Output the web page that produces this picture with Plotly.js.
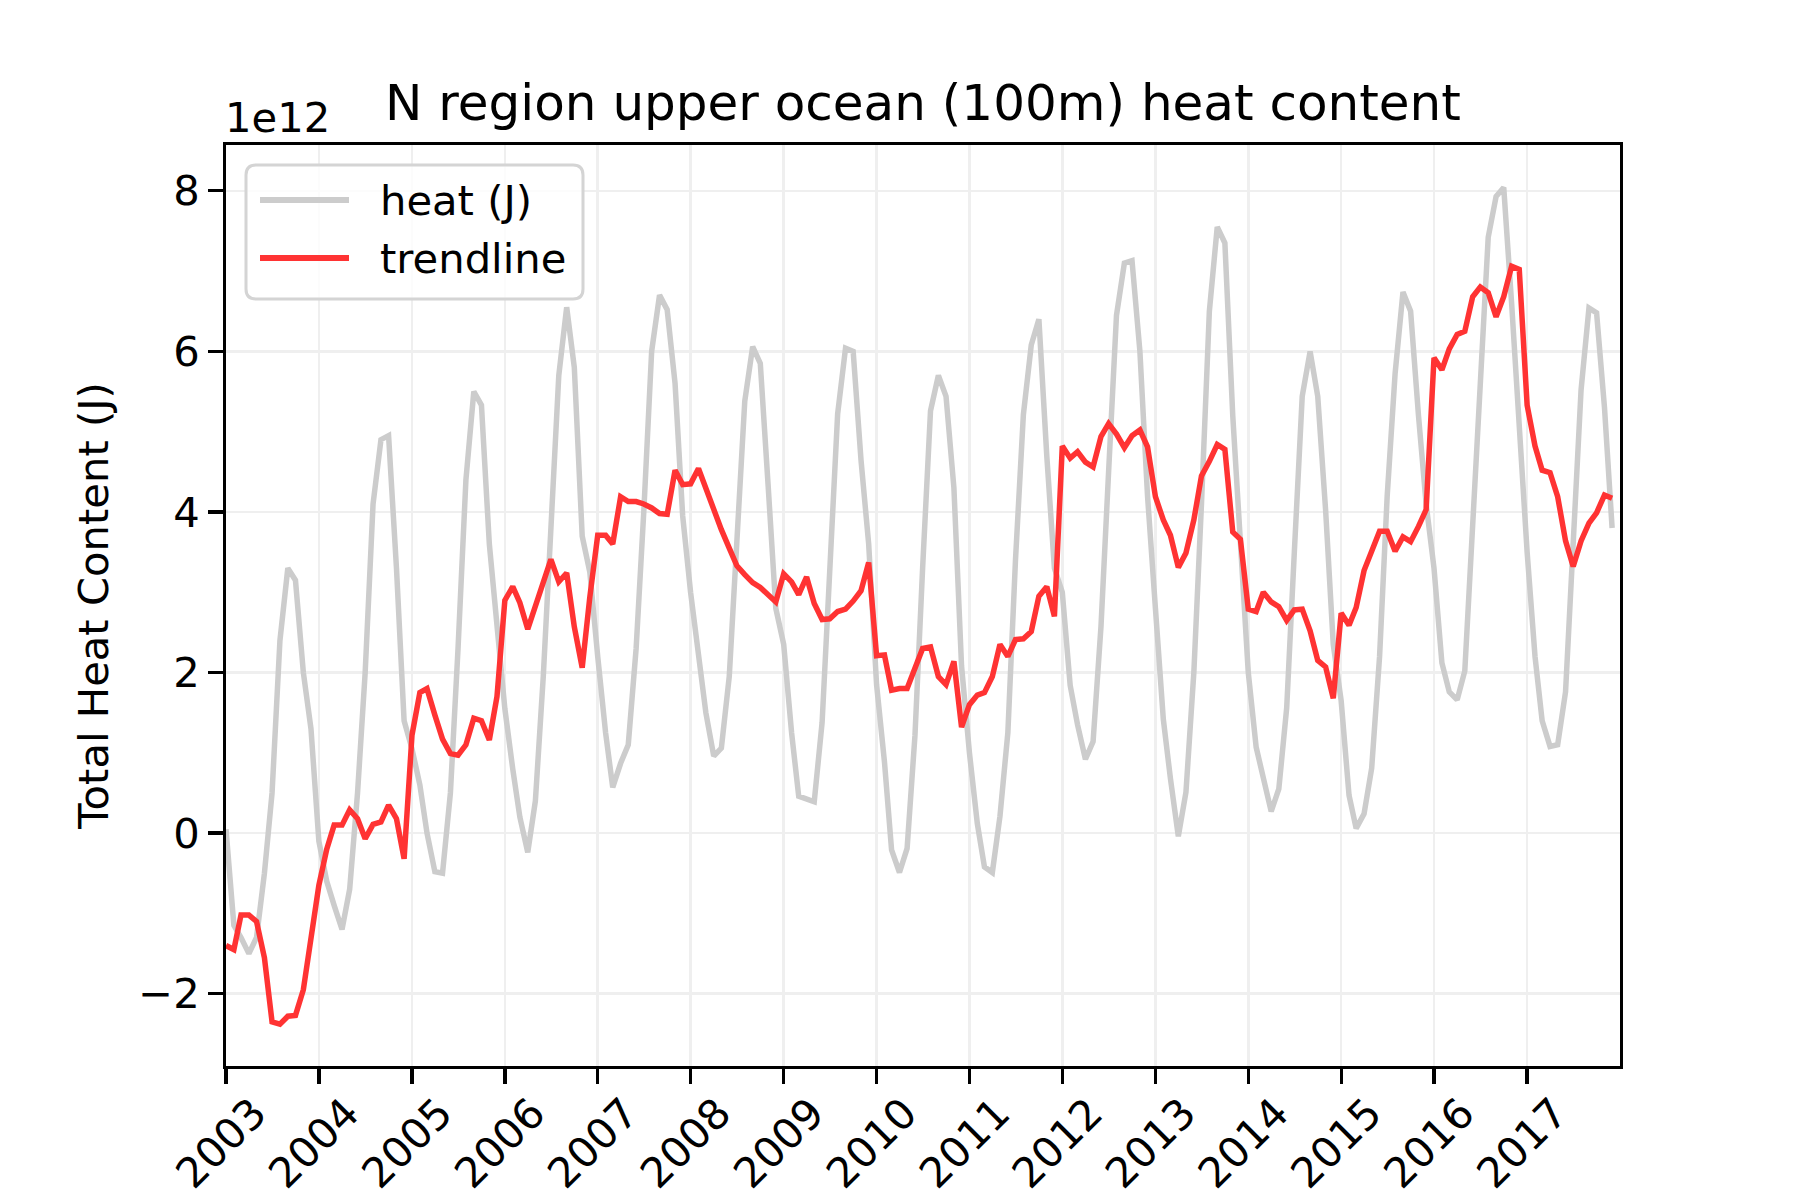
<!DOCTYPE html>
<html>
<head>
<meta charset="utf-8">
<script src="https://cdn.plot.ly/plotly-3.0.1.min.js"></script>
<style>
  html, body { margin: 0; padding: 0; background: #ffffff; }
  #chart { width: 1800px; height: 1200px; }
</style>
</head>
<body>
<div id="chart"></div>
<script>
// Monthly series, January 2003 to December 2017, values in units of 1e12 J
const startYear = 2003;
const scale = 1e12;

const heatValues = [
  0.05, -1.15, -1.3, -1.5, -1.3, -0.5, 0.5, 2.4, 3.3, 3.15, 2.0, 1.3,
  -0.1, -0.6, -0.9, -1.2, -0.7, 0.5, 2.0, 4.1, 4.9, 4.95, 3.3, 1.4,
  1.05, 0.6, 0.0, -0.48, -0.5, 0.5, 2.3, 4.4, 5.5, 5.33, 3.6, 2.6,
  1.55, 0.8, 0.2, -0.24, 0.4, 1.95, 3.85, 5.7, 6.55, 5.8, 3.7, 3.25,
  2.2, 1.25, 0.57, 0.87, 1.1, 2.3, 4.0, 6.0, 6.7, 6.52, 5.6, 3.95,
  3.0, 2.25, 1.5, 0.96, 1.06, 1.95, 3.6, 5.38, 6.06, 5.85, 4.32, 2.8,
  2.35, 1.25, 0.46, 0.43, 0.39, 1.38, 3.2, 5.22, 6.04, 6.0, 4.64, 3.6,
  1.85, 0.89, -0.21, -0.49, -0.19, 1.22, 3.3, 5.26, 5.7, 5.44, 4.3, 2.08,
  1.0, 0.12, -0.42, -0.49, 0.21, 1.25, 3.4, 5.21, 6.08, 6.4, 4.7, 3.3,
  3.0, 1.84, 1.35, 0.92, 1.14, 2.57, 4.5, 6.45, 7.1, 7.13, 6.0, 4.2,
  2.8, 1.42, 0.68, -0.04, 0.51, 2.0, 4.1, 6.5, 7.55, 7.35, 5.2, 3.7,
  2.0, 1.07, 0.7, 0.27, 0.55, 1.56, 3.5, 5.44, 6.0, 5.44, 4.02, 2.35,
  1.65, 0.47, 0.06, 0.24, 0.81, 2.2, 4.2, 5.72, 6.74, 6.5, 5.2, 4.1,
  3.3, 2.12, 1.76, 1.66, 2.02, 3.8, 5.7, 7.42, 7.93, 8.04, 6.6, 5.0,
  3.5, 2.2, 1.4, 1.08, 1.1, 1.76, 3.7, 5.52, 6.54, 6.48, 5.3, 3.8
];

const trendValues = [
  -1.40, -1.45, -1.02, -1.02, -1.10, -1.55, -2.35, -2.38, -2.28, -2.27, -1.95, -1.25,
  -0.65, -0.20, 0.10, 0.10, 0.29, 0.18, -0.07, 0.11, 0.14, 0.35, 0.18, -0.32,
  1.22, 1.75, 1.80, 1.47, 1.17, 0.99, 0.97, 1.10, 1.43, 1.40, 1.16, 1.70,
  2.90, 3.07, 2.87, 2.54, 2.83, 3.13, 3.41, 3.13, 3.24, 2.57, 2.06, 2.94,
  3.71, 3.71, 3.60, 4.19, 4.13, 4.13, 4.10, 4.05, 3.98, 3.97, 4.52, 4.34,
  4.35, 4.54, 4.28, 4.00, 3.78, 3.55, 3.33, 3.22, 3.12, 3.06, 2.97, 2.88,
  3.23, 3.13, 2.97, 3.19, 2.86, 2.66, 2.67, 2.76, 2.79, 2.89, 3.02, 3.37,
  2.21, 2.22, 1.78, 1.80, 1.80, 2.08, 2.30, 2.32, 1.95, 1.85, 2.14, 1.32,
  1.60, 1.72, 1.75, 1.95, 2.35, 2.20, 2.41, 2.42, 2.51, 2.95, 3.07, 2.70,
  4.82, 4.67, 4.75, 4.62, 4.56, 4.94, 5.10, 4.97, 4.80, 4.95, 5.02, 4.81,
  4.19, 3.90, 3.71, 3.31, 3.49, 3.90, 4.45, 4.63, 4.84, 4.78, 3.75, 3.66,
  2.79, 2.76, 3.00, 2.88, 2.82, 2.65, 2.78, 2.79, 2.52, 2.15, 2.07, 1.68,
  2.74, 2.59, 2.81, 3.27, 3.53, 3.76, 3.76, 3.51, 3.69, 3.63, 3.82, 4.03,
  5.92, 5.77, 6.03, 6.21, 6.25, 6.68, 6.80, 6.73, 6.43, 6.68, 7.06, 7.02,
  5.33, 4.82, 4.52, 4.49, 4.19, 3.64, 3.32, 3.64, 3.86, 3.99, 4.21, 4.17
];

const seriesNames = ['heat (J)', 'trendline'];
const seriesColors = ['#cccccc', '#ff3333'];
const yearTicks = [2003, 2004, 2005, 2006, 2007, 2008, 2009, 2010, 2011, 2012, 2013, 2014, 2015, 2016, 2017];
const yTickValues = [-2, 0, 2, 4, 6, 8];
const yTickLabels = ['\u22122', '0', '2', '4', '6', '8'];

function monthDate(i) {
  const y = startYear + Math.floor(i / 12);
  const m = (i % 12) + 1;
  return y + '-' + String(m).padStart(2, '0') + '-01';
}
const dates = heatValues.map((_, i) => monthDate(i));

const FONT = 'DejaVu Sans, Liberation Sans, sans-serif';

// plot-area geometry in pixels (for placing the matplotlib-style legend box)
const M = { l: 226, r: 180, t: 145, b: 134 };
const PW = 1800 - M.l - M.r, PH = 1200 - M.t - M.b;
const px = X => (X - M.l) / PW;
const py = Y => (1200 - M.b - Y) / PH;

function roundedRect(x0, y0, x1, y1, r) {
  const rx = r / PW, ry = r / PH;
  const a = px(x0), b = px(x1), top = py(y0), bot = py(y1);
  return 'M' + (a + rx) + ',' + top +
    ' L' + (b - rx) + ',' + top + ' Q' + b + ',' + top + ' ' + b + ',' + (top - ry) +
    ' L' + b + ',' + (bot + ry) + ' Q' + b + ',' + bot + ' ' + (b - rx) + ',' + bot +
    ' L' + (a + rx) + ',' + bot + ' Q' + a + ',' + bot + ' ' + a + ',' + (bot + ry) +
    ' L' + a + ',' + (top - ry) + ' Q' + a + ',' + top + ' ' + (a + rx) + ',' + top + ' Z';
}

const traces = [
  {
    x: dates,
    y: heatValues.map(v => v * scale),
    type: 'scatter',
    mode: 'lines',
    name: seriesNames[0],
    line: { color: seriesColors[0], width: 5.5 }
  },
  {
    x: dates,
    y: trendValues.map(v => v * scale),
    type: 'scatter',
    mode: 'lines',
    name: seriesNames[1],
    line: { color: seriesColors[1], width: 5.5 }
  }
];

const legendRows = [200, 258];
const shapes = [
  {
    type: 'path', xref: 'paper', yref: 'paper', layer: 'above',
    path: roundedRect(246, 165, 583, 299, 10),
    fillcolor: 'rgba(255,255,255,0.8)',
    line: { color: '#d4d4d4', width: 3 }
  }
];
const annotations = [
  {
    text: '1e12',
    xref: 'paper', yref: 'paper',
    x: 0, xanchor: 'left', xshift: -3,
    y: 1.001, yanchor: 'bottom',
    showarrow: false,
    font: { family: FONT, size: 41.7, color: '#000000' }
  }
];
seriesNames.forEach((name, k) => {
  shapes.push({
    type: 'line', xref: 'paper', yref: 'paper', layer: 'above',
    x0: px(260), x1: px(349), y0: py(legendRows[k]), y1: py(legendRows[k]),
    line: { color: seriesColors[k], width: 6 }
  });
  annotations.push({
    text: name,
    xref: 'paper', yref: 'paper',
    x: px(378), xanchor: 'left',
    y: py(legendRows[k]), yanchor: 'middle',
    showarrow: false,
    font: { family: FONT, size: 41.7, color: '#000000' }
  });
});

const layout = {
  width: 1800,
  height: 1200,
  paper_bgcolor: '#ffffff',
  plot_bgcolor: '#ffffff',
  font: { family: FONT, color: '#000000', size: 41.7 },
  margin: { l: M.l, r: M.r, t: M.t, b: M.b, pad: 0 },
  title: {
    text: 'N region upper ocean (100m) heat content',
    font: { family: FONT, size: 50, color: '#000000' },
    xref: 'paper', x: 0.5, xanchor: 'center',
    yref: 'container', y: 0.915, yanchor: 'middle'
  },
  xaxis: {
    type: 'date',
    range: ['2003-01-01', '2018-01-01'],
    tickmode: 'array',
    tickvals: yearTicks.map(y => y + '-01-01'),
    ticktext: yearTicks.map(String),
    tickangle: -45,
    ticklabelshift: 28,
    ticklabelstandoff: -12,
    ticks: 'outside',
    ticklen: 14.6,
    tickwidth: 3.3,
    tickcolor: '#000000',
    tickfont: { family: FONT, size: 41.7, color: '#000000' },
    showline: true,
    linecolor: '#000000',
    linewidth: 3.3,
    mirror: true,
    showgrid: true,
    gridcolor: '#efefef',
    gridwidth: 2.5,
    zeroline: false,
    automargin: false
  },
  yaxis: {
    range: [-2.90 * scale, 8.57 * scale],
    tickmode: 'array',
    tickvals: yTickValues.map(v => v * scale),
    ticktext: yTickLabels,
    ticks: 'outside',
    ticklen: 14.6,
    tickwidth: 3.3,
    tickcolor: '#000000',
    tickfont: { family: FONT, size: 41.7, color: '#000000' },
    showline: true,
    linecolor: '#000000',
    linewidth: 3.3,
    mirror: true,
    showgrid: true,
    gridcolor: '#efefef',
    gridwidth: 2.5,
    zeroline: false,
    automargin: false,
    title: {
      text: 'Total Heat Content (J)',
      font: { family: FONT, size: 41.7, color: '#000000' },
      standoff: 17
    }
  },
  showlegend: false,
  shapes: shapes,
  annotations: annotations
};

Plotly.newPlot('chart', traces, layout, { displayModeBar: false, staticPlot: true });
</script>
</body>
</html>
